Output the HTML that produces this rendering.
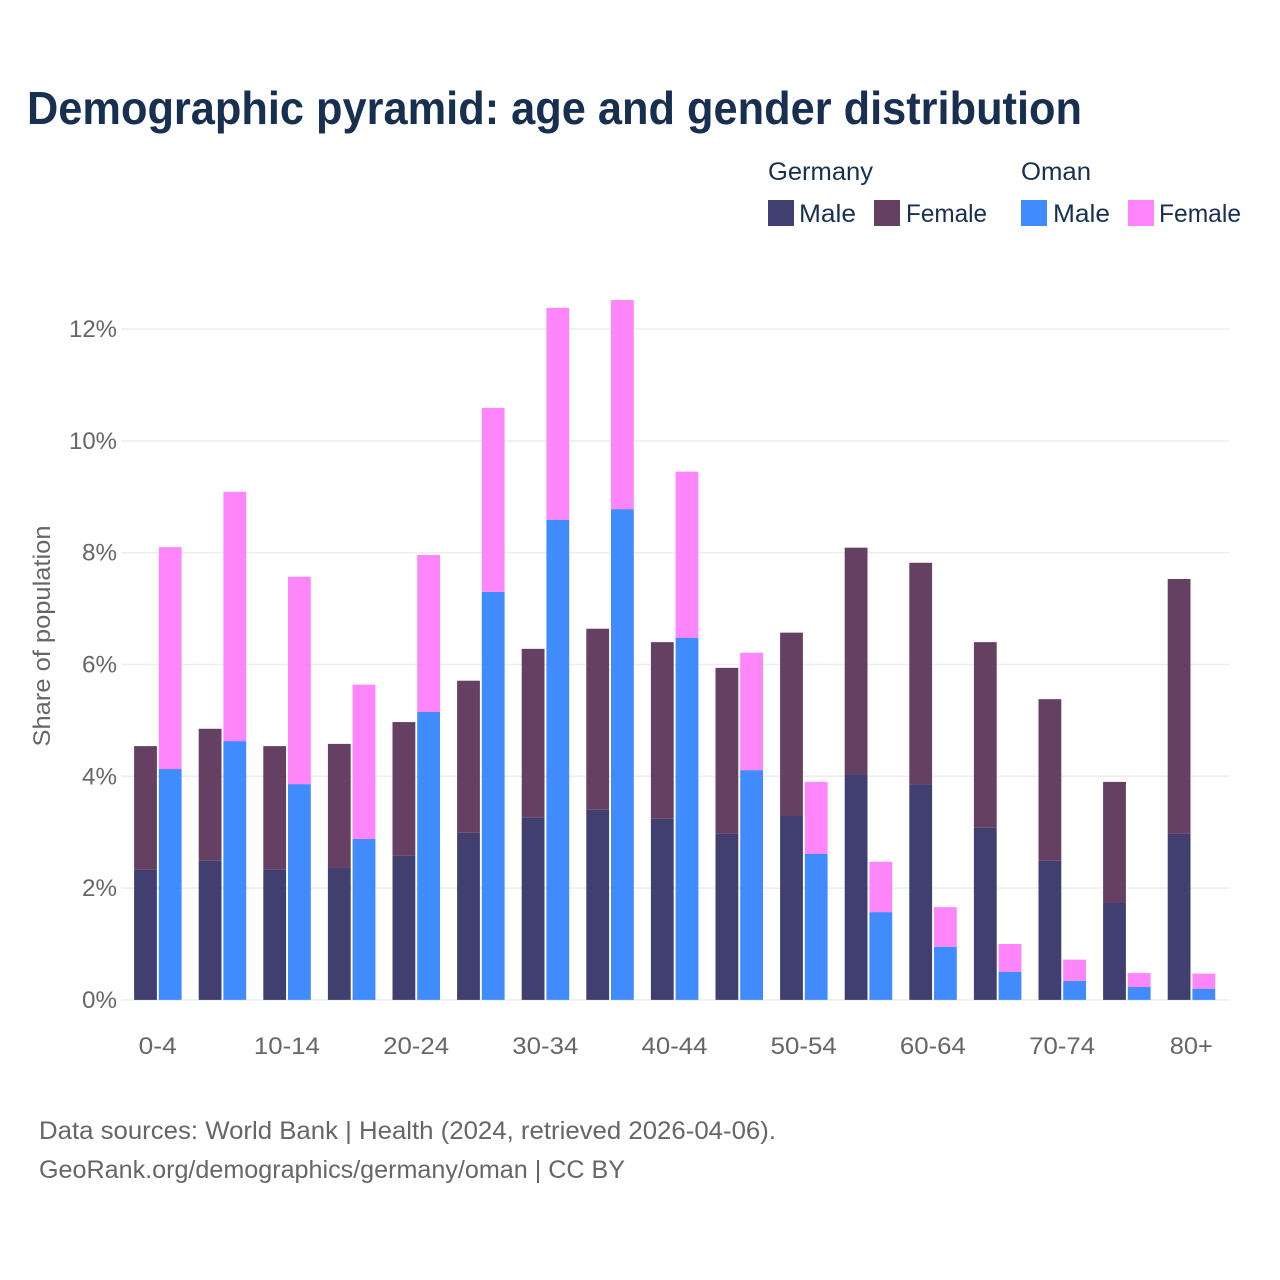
<!DOCTYPE html>
<html lang="en">
<head>
<meta charset="utf-8">
<title>Demographic pyramid: age and gender distribution</title>
<style>
html,body{margin:0;padding:0;background:#fff;}
svg{display:block;font-family:"Liberation Sans",sans-serif;}
</style>
</head>
<body>
<svg id="chart" xmlns="http://www.w3.org/2000/svg" width="1280" height="1280" viewBox="0 0 1280 1280">
  <rect x="0" y="0" width="1280" height="1280" fill="#ffffff"/>
  <text x="27" y="124" font-size="46" font-weight="700" fill="#172f50" textLength="1055" lengthAdjust="spacingAndGlyphs">Demographic pyramid: age and gender distribution</text>

  <g font-size="25" fill="#172f50">
    <text x="768" y="180" textLength="105" lengthAdjust="spacingAndGlyphs">Germany</text>
    <text x="1021" y="180" textLength="70" lengthAdjust="spacingAndGlyphs">Oman</text>
    <rect x="768" y="200" width="26" height="26" fill="#413f70"/>
    <text x="799" y="222" textLength="57" lengthAdjust="spacingAndGlyphs">Male</text>
    <rect x="874" y="200" width="26" height="26" fill="#664063"/>
    <text x="906" y="222" textLength="81" lengthAdjust="spacingAndGlyphs">Female</text>
    <rect x="1021" y="200" width="26" height="26" fill="#408cff"/>
    <text x="1053" y="222" textLength="57" lengthAdjust="spacingAndGlyphs">Male</text>
    <rect x="1128" y="200" width="26" height="26" fill="#ff85fa"/>
    <text x="1159" y="222" textLength="82" lengthAdjust="spacingAndGlyphs">Female</text>
  </g>

  <text transform="translate(50,636) rotate(-90)" text-anchor="middle" font-size="24" fill="#666666" textLength="221" lengthAdjust="spacingAndGlyphs">Share of population</text>
  <g id="grid"></g>
  <g id="yticks"></g>
  <g id="bars"></g>
  <g id="xticks"></g>

  <g font-size="25" fill="#666666">
    <text x="39" y="1139" textLength="737" lengthAdjust="spacingAndGlyphs">Data sources: World Bank | Health (2024, retrieved 2026-04-06).</text>
    <text x="39" y="1178" textLength="586" lengthAdjust="spacingAndGlyphs">GeoRank.org/demographics/germany/oman | CC BY</text>
  </g>
</svg>
<script>
const ageGroups = ['0-4','5-9','10-14','15-19','20-24','25-29','30-34','35-39','40-44','45-49','50-54','55-59','60-64','65-69','70-74','75-79','80+'];
const shownAgeLabels = ['0-4','10-14','20-24','30-34','40-44','50-54','60-64','70-74','80+'];
const germanyMale = [2.33,2.49,2.33,2.36,2.58,2.99,3.26,3.40,3.24,2.97,3.29,4.04,3.86,3.08,2.49,1.75,2.97];
const germanyFemale = [2.21,2.36,2.21,2.22,2.39,2.72,3.02,3.24,3.16,2.97,3.28,4.05,3.96,3.32,2.89,2.15,4.56];
const omanMale = [4.13,4.63,3.86,2.88,5.15,7.30,8.59,8.78,6.48,4.11,2.61,1.57,0.95,0.50,0.34,0.23,0.20];
const omanFemale = [3.97,4.46,3.71,2.76,2.81,3.29,3.79,3.74,2.97,2.10,1.29,0.90,0.71,0.50,0.38,0.25,0.27];
const yTicks = [0,2,4,6,8,10,12];

const NS = 'http://www.w3.org/2000/svg';
function yScale(v){ return 999.9 - v * 55.9; }
function xCenter(i){ return 157.7 + i * 64.6; }
const barWidth = 22.8;

function make(tag, attrs, parent){
  const el = document.createElementNS(NS, tag);
  for (const k in attrs) el.setAttribute(k, attrs[k]);
  parent.appendChild(el);
  return el;
}

const gridG = document.getElementById('grid');
const yG = document.getElementById('yticks');
yTicks.forEach(function(t){
  const line = make('line', {x1:121, x2:1229, y1:yScale(t), y2:yScale(t), stroke:'#eeeeee', 'stroke-width':1.6}, gridG);
  
  
  const label = make('text', {x:117, y:yScale(t)+8, 'text-anchor':'end', 'font-size':24, fill:'#666666', textLength:String(t).length > 1 ? 48 : 35, lengthAdjust:'spacingAndGlyphs'}, yG);
  
  
  label.textContent = t + '%';
});

const barsG = document.getElementById('bars');
function stackedBar(x, low, high, lowColor, highColor, name){
  const y0 = yScale(0), y1 = yScale(low), y2 = yScale(low + high);
  const lowRect = make('rect', {x:x, y:y1, width:barWidth, height:y0 - y1, fill:lowColor}, barsG);
  
  
  const highRect = make('rect', {x:x, y:y2, width:barWidth, height:y1 - y2, fill:highColor}, barsG);
  
  
}
ageGroups.forEach(function(age, i){
  const c = xCenter(i);
  stackedBar(c - 23.6, germanyMale[i], germanyFemale[i], '#413f70', '#664063', 'germany-' + age);
  stackedBar(c + 1.1, omanMale[i], omanFemale[i], '#408cff', '#ff85fa', 'oman-' + age);
});

const xG = document.getElementById('xticks');
ageGroups.forEach(function(age, i){
  if (shownAgeLabels.indexOf(age) < 0) return;
  const label = make('text', {x:xCenter(i), y:1054, 'text-anchor':'middle', 'font-size':24, fill:'#666666'}, xG);
  
  
  label.setAttribute('textLength', age.length === 5 ? 66 : (age.length === 3 && age !== '80+' ? 38 : 43));
  label.setAttribute('lengthAdjust', 'spacingAndGlyphs');
  label.textContent = age;
});
</script>
</body>
</html>
